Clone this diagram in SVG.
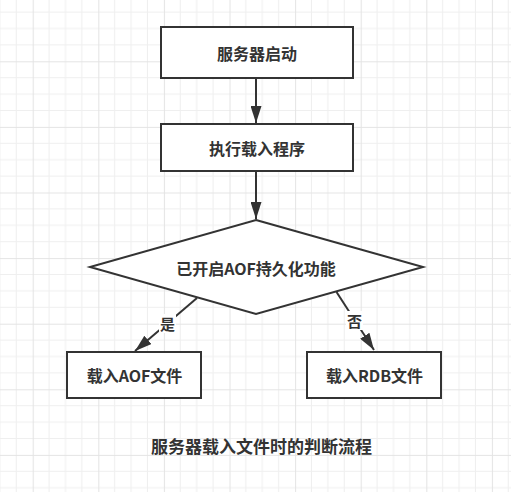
<svg xmlns="http://www.w3.org/2000/svg" width="511" height="492" viewBox="0 0 511 492">
  <defs>
    <pattern id="grid" patternUnits="userSpaceOnUse" x="32.7" y="-4.3" width="65.6" height="65.6">
      <rect width="65.6" height="65.6" fill="#ffffff"/>
      <path d="M16.4 0V65.6M32.8 0V65.6M49.2 0V65.6M0 16.4H65.6M0 32.8H65.6M0 49.2H65.6" stroke="#efefef" stroke-width="1" fill="none"/>
      <path d="M0.5 0V65.6M0 0.5H65.6" stroke="#e4e4e4" stroke-width="1" fill="none"/>
    </pattern>
    <marker id="arrow" markerUnits="userSpaceOnUse" markerWidth="18" markerHeight="11" refX="17" refY="5.5" orient="auto">
      <path d="M0,0 L17,5.5 L0,11 z" fill="#333333"/>
    </marker>
    <style>
      .box { fill: #ffffff; stroke: #333333; stroke-width: 2; }
      .lbl { font-family: "Noto Sans CJK SC", "Liberation Sans", sans-serif; font-weight: bold; font-size: 16px; fill: #333333; text-anchor: middle; dominant-baseline: central; }
      .edge { stroke: #333333; stroke-width: 2; fill: none; marker-end: url(#arrow); }
      .elbl { font-family: "Noto Sans CJK SC", "Liberation Sans", sans-serif; font-weight: bold; font-size: 15px; fill: #333333; text-anchor: middle; dominant-baseline: central; }
    </style>
  </defs>
  <rect width="511" height="492" fill="url(#grid)"/>

  <g id="connectors">
    <line class="edge" x1="256" y1="79" x2="256" y2="123"/>
    <line class="edge" x1="256" y1="172" x2="256" y2="219"/>
    <line class="edge" x1="197" y1="298" x2="135" y2="351"/>
    <line class="edge" x1="336.5" y1="292" x2="374" y2="350"/>
    <rect x="159" y="314" width="17" height="19" fill="#ffffff"/>
    <text class="elbl" x="167.5" y="323.5">是</text>
    <rect x="346" y="311" width="17" height="19" fill="#ffffff"/>
    <text class="elbl" x="354.5" y="320.5">否</text>
  </g>

  <g id="start">
    <rect class="box" x="161" y="27" width="192" height="51"/>
    <text class="lbl" x="257" y="53">服务器启动</text>
  </g>
  <g id="load">
    <rect class="box" x="161" y="124" width="192" height="47"/>
    <text class="lbl" x="257" y="148">执行载入程序</text>
  </g>
  <g id="decision">
    <polygon class="box" points="256,220 423,267 256,314 90,267"/>
    <text class="lbl" x="256" y="268">已开启AOF持久化功能</text>
  </g>
  <g id="aof">
    <rect class="box" x="67" y="352" width="134" height="46"/>
    <text class="lbl" x="134.5" y="375">载入AOF文件</text>
  </g>
  <g id="rdb">
    <rect class="box" x="307" y="352" width="134" height="46"/>
    <text class="lbl" x="374.5" y="375">载入RDB文件</text>
  </g>
  <g id="caption">
    <text class="lbl" x="261.5" y="445" style="font-size:17px">服务器载入文件时的判断流程</text>
  </g>
</svg>
